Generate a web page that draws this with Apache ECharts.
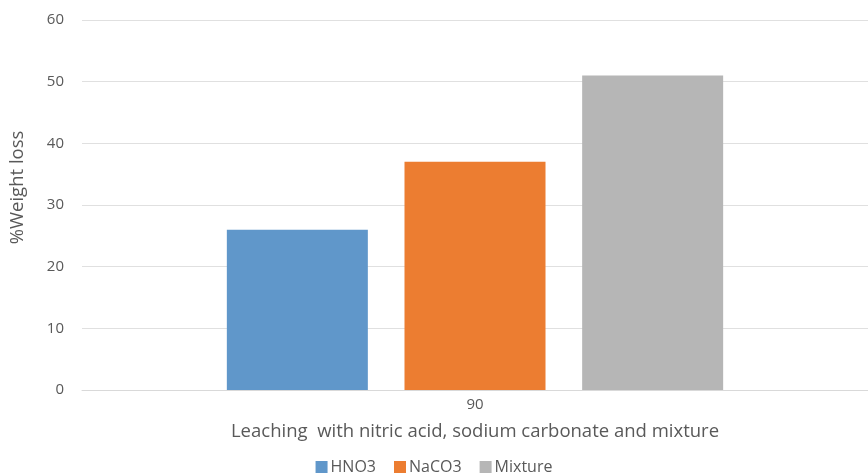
<!DOCTYPE html>
<html>
<head>
<meta charset="utf-8">
<script src="https://cdn.jsdelivr.net/npm/echarts@6/dist/echarts.min.js"></script>
<style>
  html, body { margin: 0; padding: 0; background: #fff; }
  #chart { width: 868px; height: 475px; }
</style>
</head>
<body>
<div id="chart"></div>
<script>
// data
var categories = ['90']
var seriesNames = ['HNO3', 'NaCO3', 'Mixture']
var hno3 = [26]
var naco3 = [37]
var mixture = [51]
var colors = ['#6097ca', '#ec7d31', '#b6b6b6']

var font = '"Open Sans", sans-serif'
var textColor = '#595959'

var chart = echarts.init(document.getElementById('chart'))

function bar (name, data, color) {
  return {
    name: name,
    type: 'bar',
    data: data,
    barWidth: 141,
    barGap: '26%',
    itemStyle: { color: color }
  }
}

chart.setOption({
  animation: false,
  textStyle: { fontFamily: font },
  grid: {
    left: 82,
    right: 0,
    top: 20,
    bottom: 85
  },
  legend: {
    bottom: -5,
    left: 'center',
    itemWidth: 12,
    itemHeight: 12,
    itemGap: 18,
    itemStyle: { borderWidth: 0 },
    icon: 'rect',
    textStyle: { color: textColor, fontSize: 16, fontFamily: font, padding: [0, 0, 0, -2] }
  },
  xAxis: {
    type: 'category',
    data: categories,
    name: 'Leaching  with nitric acid, sodium carbonate and mixture',
    nameLocation: 'middle',
    nameGap: 32,
    nameTextStyle: { color: textColor, fontSize: 18.5, fontFamily: font },
    axisLine: { lineStyle: { color: '#d9d9d9' } },
    axisTick: { show: false },
    axisLabel: { color: textColor, fontSize: 15, margin: 7 }
  },
  yAxis: {
    type: 'value',
    min: 0,
    max: 60,
    interval: 10,
    name: '%Weight loss',
    nameLocation: 'middle',
    nameGap: 55,
    nameTextStyle: { color: textColor, fontSize: 18.5, fontFamily: font, padding: [0, 0, 0, 35] },
    axisLine: { show: false },
    axisTick: { show: false },
    axisLabel: { color: textColor, fontSize: 15, margin: 18 },
    splitLine: { lineStyle: { color: '#e0e0e0' } }
  },
  series: [
    bar(seriesNames[0], hno3, colors[0]),
    bar(seriesNames[1], naco3, colors[1]),
    bar(seriesNames[2], mixture, colors[2])
  ]
})
</script>
</body>
</html>
